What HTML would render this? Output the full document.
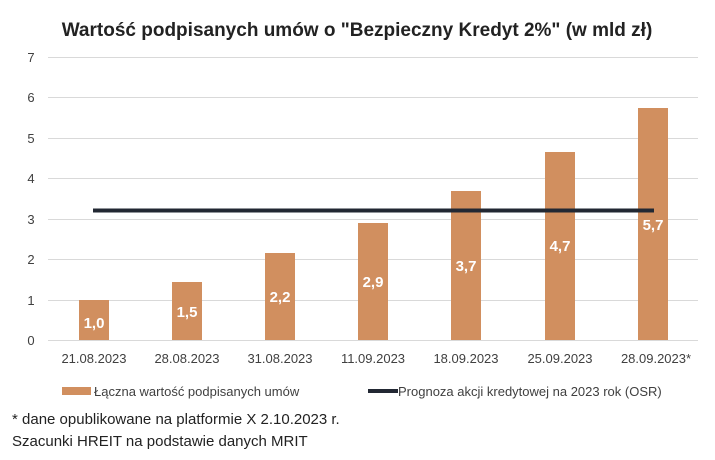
<!DOCTYPE html>
<html><head><meta charset="utf-8"><style>
body{margin:0;background:#fff}
svg text{font-family:"Liberation Sans",sans-serif}
</style></head><body>
<svg width="715" height="455" xmlns="http://www.w3.org/2000/svg">
<rect width="715" height="455" fill="#fff"/>
<text x="357" y="36" text-anchor="middle" font-size="19" font-weight="bold" fill="#222">Wartość podpisanych umów o "Bezpieczny Kredyt 2%" (w mld zł)</text>
<g stroke="#d9d9d9" stroke-width="1">
<line x1="48" x2="698" y1="57.5" y2="57.5"/>
<line x1="48" x2="698" y1="97.5" y2="97.5"/>
<line x1="48" x2="698" y1="138.5" y2="138.5"/>
<line x1="48" x2="698" y1="178.5" y2="178.5"/>
<line x1="48" x2="698" y1="219.5" y2="219.5"/>
<line x1="48" x2="698" y1="259.5" y2="259.5"/>
<line x1="48" x2="698" y1="300.5" y2="300.5"/>
<line x1="48" x2="698" y1="340.5" y2="340.5"/>
</g>
<g font-size="13" fill="#404040" text-anchor="middle">
<text x="31" y="62">7</text><text x="31" y="102">6</text><text x="31" y="143">5</text><text x="31" y="183">4</text><text x="31" y="224">3</text><text x="31" y="264">2</text><text x="31" y="305">1</text><text x="31" y="345">0</text>
</g>
<g fill="#D18F5F">
<rect x="79" y="300" width="30" height="40"/>
<rect x="172" y="282" width="30" height="58"/>
<rect x="265" y="253" width="30" height="87"/>
<rect x="358" y="223" width="30" height="117"/>
<rect x="451" y="191" width="30" height="149"/>
<rect x="545" y="152" width="30" height="188"/>
<rect x="638" y="108" width="30" height="232"/>
</g>
<line x1="93" x2="654" y1="210.5" y2="210.5" stroke="#222833" stroke-width="4"/>
<g font-size="15" font-weight="bold" fill="#fff" text-anchor="middle">
<text x="94" y="328">1,0</text><text x="187" y="317">1,5</text><text x="280" y="302">2,2</text><text x="373" y="287">2,9</text><text x="466" y="271">3,7</text><text x="560" y="251">4,7</text><text x="653" y="230">5,7</text>
</g>
<g font-size="13" fill="#404040" text-anchor="middle">
<text x="94" y="363">21.08.2023</text><text x="187" y="363">28.08.2023</text><text x="280" y="363">31.08.2023</text><text x="373" y="363">11.09.2023</text><text x="466" y="363">18.09.2023</text><text x="560" y="363">25.09.2023</text><text x="656" y="363">28.09.2023*</text>
</g>
<rect x="62" y="387" width="29" height="8" fill="#D18F5F"/>
<text x="94" y="396" font-size="13" fill="#404040">Łączna wartość podpisanych umów</text>
<line x1="368" x2="398" y1="391" y2="391" stroke="#222833" stroke-width="4"/>
<text x="398" y="396" font-size="13" fill="#404040">Prognoza akcji kredytowej na 2023 rok (OSR)</text>
<text x="12" y="424" font-size="15" fill="#222">* dane opublikowane na platformie X 2.10.2023 r.</text>
<text x="12" y="446" font-size="15" fill="#222">Szacunki HREIT na podstawie danych MRIT</text>
</svg>
</body></html>
